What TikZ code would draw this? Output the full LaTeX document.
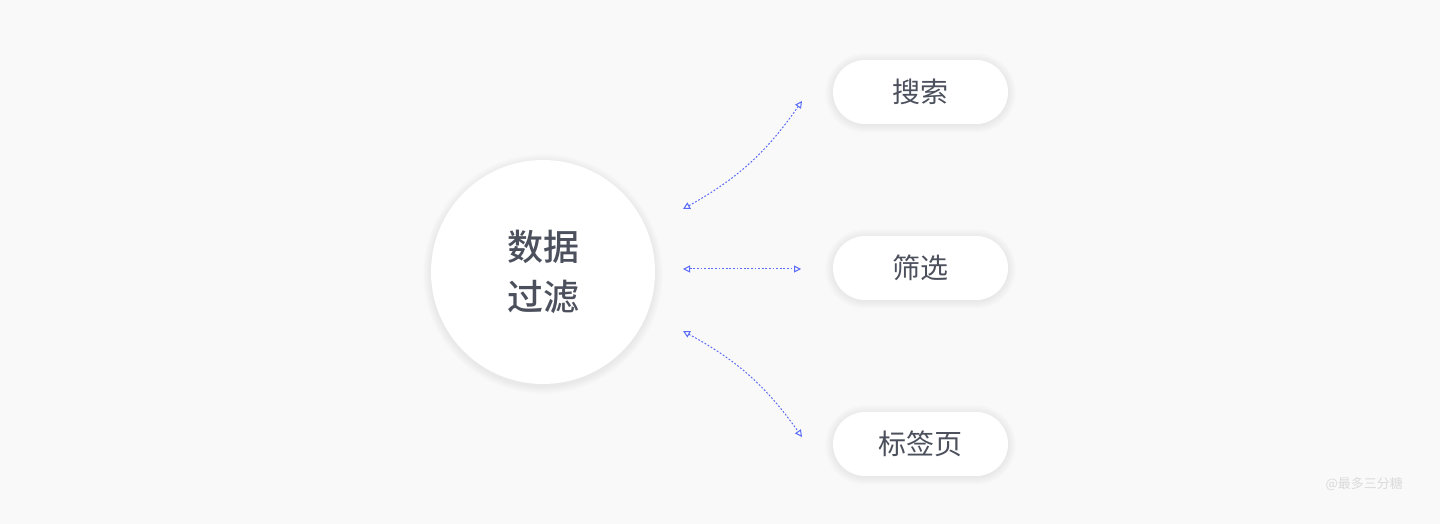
\documentclass[tikz,border=0pt]{standalone}
\usepackage{fontspec}
\newfontfamily\cjk{Noto Sans CJK SC}[BoldFont={Noto Sans CJK SC Medium}]
\usetikzlibrary{arrows.meta,shapes.misc}
\definecolor{bgcol}{HTML}{F9F9F9}
\definecolor{textcol}{HTML}{4B505C}
\definecolor{linkcol}{HTML}{5A6BF5}
\definecolor{markcol}{HTML}{DADADA}

\begin{document}
\begin{tikzpicture}[
    x=0.5pt,
    y=0.5pt,
    hub/.style={
        circle,
        fill=white,
        minimum size=112pt,
        align=center,
        text=textcol,
        font=\cjk\bfseries\fontsize{18}{25}\selectfont
    },
    pill/.style={
        rounded rectangle,
        fill=white,
        minimum width=87.5pt,
        minimum height=32pt,
        inner sep=0pt,
        text=textcol,
        font=\cjk\fontsize{14}{16}\selectfont
    },
    halo/.style={
        fill=black,
        fill opacity=0.007,
        inner sep=0pt
    },
    link/.style={
        {Triangle[open,length=3.5pt,width=3.5pt]}-{Triangle[open,length=3.5pt,width=3.5pt]},
        linkcol,
        line width=0.5pt,
        dash pattern=on 0.9pt off 0.9pt
    }
]

% Background
\fill [bgcol] (0,0) rectangle (1440,524);
\useasboundingbox (0,0) rectangle (1440,524);

% Soft shadows
\foreach \r in {1,2,...,8} {
    \node [halo, circle, minimum size={112pt+\r pt}] at (543,250) {};
    \foreach \y in {79,255,431} {
        \node [halo, rounded rectangle, minimum width={87.5pt+\r pt}, minimum height={32pt+\r pt}] at (920.5,\y) {};
    }
}

% Nodes
\node [hub] (filter) at (543,252) {数据\\过滤};
\node [pill] (search) at (920.5,432) {搜索};
\node [pill] (select) at (920.5,256) {筛选};
\node [pill] (tabs) at (920.5,80) {标签页};

% Link ends
\coordinate (a1) at (683,315);
\coordinate (b1) at (802,423);
\coordinate (a2) at (683,255);
\coordinate (b2) at (801,255);
\coordinate (a3) at (683,193);
\coordinate (b3) at (802,87);

% Links
\draw [link] (a1) to[bend right=13] (b1);
\draw [link] (a2) -- (b2);
\draw [link] (a3) to[bend left=13] (b3);

% Watermark
\node [anchor=east, text=markcol, font=\cjk\fontsize{6.5}{8}\selectfont] (mark) at (1410,40) {@最多三分糖};

\end{tikzpicture}
\end{document}
